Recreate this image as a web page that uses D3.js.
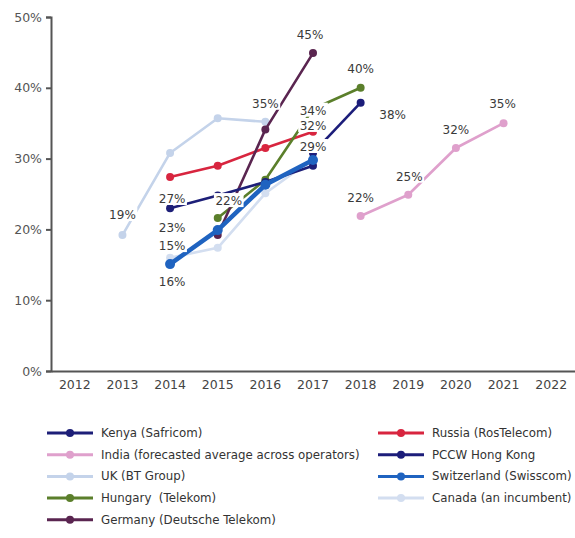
<!DOCTYPE html>
<html>
<head>
<meta charset="utf-8">
<script src="https://cdn.jsdelivr.net/npm/d3@7"></script>
<style>
  html, body { margin: 0; padding: 0; background: #fff; }
  svg { display: block; font-family: "DejaVu Sans", sans-serif; }
</style>
</head>
<body>
<svg id="chart" width="575" height="538"></svg>
<script>
// ---------- data ----------
const years = [2012, 2013, 2014, 2015, 2016, 2017, 2018, 2019, 2020, 2021, 2022];
const yTicks = [0, 0.1, 0.2, 0.3, 0.4, 0.5];

const seriesNames = [
  "Kenya (Safricom)", "India (forecasted average across operators)", "UK (BT Group)",
  "Hungary  (Telekom)", "Germany (Deutsche Telekom)", "Russia (RosTelecom)",
  "PCCW Hong Kong", "Switzerland (Swisscom)", "Canada (an incumbent)"
];
// values in %, aligned with years (null = no value)
const kenya       = [null, null, 23.0, 24.8, 26.7, 29.0, null, null, null, null, null];
const india       = [null, null, null, null, null, null, 21.9, 24.9, 31.5, 35.0, null];
const uk          = [null, 19.2, 30.8, 35.7, 35.2, null, null, null, null, null, null];
const hungary     = [null, null, null, 21.6, 27.0, 37.0, 40.0, null, null, null, null];
const germany     = [null, null, null, 19.2, 34.1, 44.9, null, null, null, null, null];
const russia      = [null, null, 27.4, 29.0, 31.5, 33.8, null, null, null, null, null];
const pccw        = [null, null, null, null, null, 30.8, 37.9, null, null, null, null];
const switzerland = [null, null, 15.1, 19.9, 26.3, 29.8, null, null, null, null, null];
const canada      = [null, null, 16.0, 17.4, 25.1, 30.0, null, null, null, null, null];

// data labels: series name, year, text
const labelSeries = ["Germany (Deutsche Telekom)", "Hungary  (Telekom)", "PCCW Hong Kong",
  "India (forecasted average across operators)", "India (forecasted average across operators)",
  "India (forecasted average across operators)", "India (forecasted average across operators)",
  "UK (BT Group)", "Russia (RosTelecom)", "PCCW Hong Kong", "Switzerland (Swisscom)",
  "Russia (RosTelecom)", "Hungary  (Telekom)", "UK (BT Group)", "Kenya (Safricom)",
  "Switzerland (Swisscom)", "Canada (an incumbent)"];
const labelYears = [2017, 2018, 2018, 2021, 2020, 2019, 2018, 2016, 2017, 2017, 2017,
  2014, 2015, 2013, 2014, 2014, 2014];
const labelTexts = ["45%", "40%", "38%", "35%", "32%", "25%", "22%", "35%", "34%", "32%", "29%",
  "27%", "22%", "19%", "23%", "15%", "16%"];

// ---------- styles ----------
const colors = {
  "Kenya (Safricom)": "#1d1f78",
  "India (forecasted average across operators)": "#dfa0cc",
  "UK (BT Group)": "#c4d3ea",
  "Hungary  (Telekom)": "#5b7f2b",
  "Germany (Deutsche Telekom)": "#5a2550",
  "Russia (RosTelecom)": "#d8253f",
  "PCCW Hong Kong": "#1c1d7a",
  "Switzerland (Swisscom)": "#1f63c0",
  "Canada (an incumbent)": "#d3def0"
};
const widths = { "Switzerland (Swisscom)": 4.5 };
// label offsets relative to the data point (text center, baseline)
const labelOffsets = {
  "45%|2017": [-3, -14], "40%|2018": [0, -15], "38%|2018": [32, 16],
  "35%|2021": [-1, -15], "32%|2020": [0, -14], "25%|2019": [1, -14], "22%|2018": [0, -14],
  "35%|2016": [0, -14], "34%|2017": [0, -17], "32%|2017": [0, -23], "29%|2017": [0, -9],
  "27%|2014": [2, 26], "22%|2015": [11, -13], "19%|2013": [0, -16], "23%|2014": [2, 24],
  "15%|2014": [2, -14], "16%|2014": [2, 28]
};

const data = {
  "Kenya (Safricom)": kenya, "India (forecasted average across operators)": india,
  "UK (BT Group)": uk, "Hungary  (Telekom)": hungary, "Germany (Deutsche Telekom)": germany,
  "Russia (RosTelecom)": russia, "PCCW Hong Kong": pccw, "Switzerland (Swisscom)": switzerland,
  "Canada (an incumbent)": canada
};
const drawOrder = ["UK (BT Group)", "Canada (an incumbent)", "India (forecasted average across operators)",
  "Russia (RosTelecom)", "Hungary  (Telekom)", "Germany (Deutsche Telekom)", "PCCW Hong Kong",
  "Kenya (Safricom)", "Switzerland (Swisscom)"];

// ---------- chart ----------
const svg = d3.select("#chart");
const x = d3.scaleBand().domain(years).range([51, 575]);
const y = d3.scaleLinear().domain([0, 0.5]).range([371, 17]);
const cx = yr => x(yr) + x.bandwidth() / 2;

const line = d3.line()
  .defined(d => d.v != null)
  .x(d => cx(d.year))
  .y(d => y(d.v / 100));

const plot = svg.append("g");
drawOrder.forEach(name => {
  const pts = years.map((yr, i) => ({ year: yr, v: data[name][i] }));
  plot.append("path")
    .datum(pts)
    .attr("fill", "none")
    .attr("stroke", colors[name])
    .attr("stroke-width", widths[name] || 2.6)
    .attr("stroke-linejoin", "round")
    .attr("d", line);
  plot.selectAll(null)
    .data(pts.filter(d => d.v != null))
    .enter().append("circle")
    .attr("cx", d => cx(d.year))
    .attr("cy", d => y(d.v / 100))
    .attr("r", name === "Switzerland (Swisscom)" ? 5 : 4)
    .attr("fill", colors[name]);
});

// data labels with white background
const lblG = svg.append("g").attr("font-size", 12).attr("fill", "#3a3a3a");
labelTexts.forEach((t, i) => {
  const s = labelSeries[i], yr = labelYears[i];
  const v = data[s][years.indexOf(yr)];
  const off = labelOffsets[t + "|" + yr] || [0, -14];
  const px = cx(yr) + off[0], py = y(v / 100) + off[1];
  const g = lblG.append("g");
  const rect = g.append("rect").attr("fill", "#fff");
  const txt = g.append("text").attr("x", px).attr("y", py).attr("text-anchor", "middle").text(t);
  const bb = txt.node().getBBox();
  rect.attr("x", bb.x - 1.5).attr("y", bb.y - 1).attr("width", bb.width + 3).attr("height", bb.height);
});

// axes
const yAxis = svg.append("g").attr("transform", "translate(51,0)")
  .call(d3.axisLeft(y).tickValues(yTicks).tickFormat(d3.format(".0%")).tickSize(5).tickPadding(4));
yAxis.select(".domain").attr("stroke", "#555").attr("stroke-width", 2);
yAxis.selectAll(".tick line").attr("stroke", "#555").attr("stroke-width", 2);
yAxis.selectAll("text").attr("font-size", 12.5).attr("fill", "#555").attr("font-family", "DejaVu Sans, sans-serif");

const xAxis = svg.append("g").attr("transform", "translate(0,371)")
  .call(d3.axisBottom(x).tickSize(0).tickPadding(9).tickSizeOuter(0));
xAxis.select(".domain").attr("stroke", "#555").attr("stroke-width", 2);
xAxis.selectAll("text").attr("font-size", 12.5).attr("fill", "#444").attr("font-family", "DejaVu Sans, sans-serif");

// legend
const legendLeft = ["Kenya (Safricom)", "India (forecasted average across operators)", "UK (BT Group)",
  "Hungary  (Telekom)", "Germany (Deutsche Telekom)"];
const legendRight = ["Russia (RosTelecom)", "PCCW Hong Kong", "Switzerland (Swisscom)", "Canada (an incumbent)"];
const leg = svg.append("g").attr("font-size", 11.8).attr("fill", "#333");
function legendCol(names, x0) {
  names.forEach((n, i) => {
    const yy = 433 + i * 21.7;
    leg.append("line").attr("x1", x0).attr("x2", x0 + 46).attr("y1", yy).attr("y2", yy)
      .attr("stroke", colors[n]).attr("stroke-width", 3);
    leg.append("circle").attr("cx", x0 + 23).attr("cy", yy).attr("r", 4).attr("fill", colors[n]);
    leg.append("text").attr("x", x0 + 54).attr("y", yy + 4).attr("xml:space", "preserve").text(n);
  });
}
legendCol(legendLeft, 47);
legendCol(legendRight, 378);
</script>
</body>
</html>
